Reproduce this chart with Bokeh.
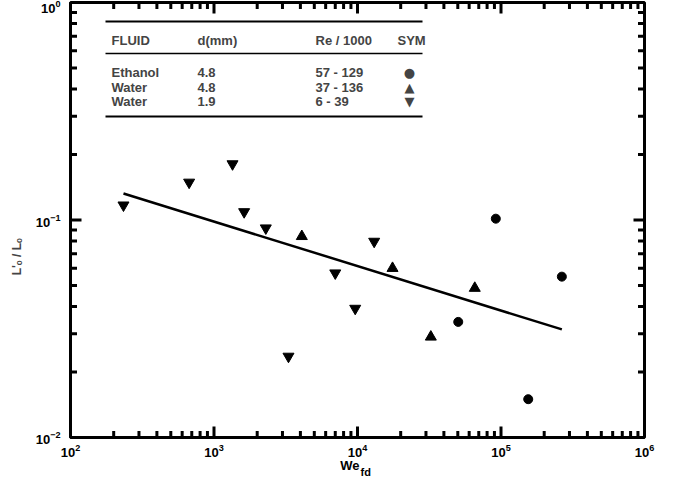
import math
from bokeh.plotting import figure
from bokeh.models import (FixedTicker, LogTickFormatter, Label, BoxAnnotation, Range1d)
from bokeh.layouts import column
from bokeh.core.properties import value
from bokeh.embed import file_html
from bokeh.resources import INLINE

# ---- data ----
eth_we = [50350, 92000, 154800, 265500]
eth_l = [0.0340, 0.1014, 0.0150, 0.0549]

w48_we = [4093, 17540, 32440, 65650]
w48_l = [0.0841, 0.0600, 0.0290, 0.0486]

w19_we = [234, 671, 1346, 1622, 2296, 3304, 6998, 9640, 13070]
w19_l = [0.117, 0.149, 0.181, 0.109, 0.0918, 0.0236, 0.0570, 0.0392, 0.0797]

fit_we = [234, 265500]
fit_l = [0.1324, 0.0314]

leg_head = ["FLUID", "d(mm)", "Re / 1000", "SYM"]
leg_fluid = ["Ethanol", "Water", "Water"]
leg_d = ["4.8", "4.8", "1.9"]
leg_re = ["57 - 129", "37 - 136", "6  -  39"]
leg_sym = ["\u25CF", "\u25B2", "\u25BC"]

x_major = [1e2, 1e3, 1e4, 1e5, 1e6]
y_major = [1e-2, 1e-1, 1e0]
x_minor = [m * 10.0 ** k for k in range(2, 6) for m in range(2, 10)]
y_minor = [m * 10.0 ** k for k in range(-2, 0) for m in range(2, 10)]
x_lo, x_hi = 1e2, 1e6
y_lo, y_hi = 1e-2, 1e0

x_title = "We"
x_title_sub = "fd"
y_title = "L'\u2092 / L\u2092"

FONT = "Liberation Sans"
TICK_COLOR = "black"

p = figure(width=659, height=459, x_axis_type="log", y_axis_type="log",
           x_range=(x_lo, x_hi), y_range=(y_lo, y_hi),
           output_backend="svg", toolbar_location=None,
           min_border_left=70, min_border_right=15, min_border_top=2,
           min_border_bottom=22)
p.grid.visible = False
p.outline_line_color = "black"
p.outline_line_width = 3
p.background_fill_color = "white"
p.border_fill_color = "white"


def style_axis(ax, ticks):
    ax.ticker = FixedTicker(ticks=ticks)
    ax.axis_line_width = 3
    ax.axis_line_color = "black"
    ax.major_tick_in = 0
    ax.major_tick_out = 0
    ax.minor_tick_in = 0
    ax.minor_tick_out = 0
    ax.formatter = LogTickFormatter()
    ax.major_label_text_font = FONT
    ax.major_label_text_font_style = "bold"
    ax.major_label_text_font_size = "13px"
    ax.major_label_text_color = "black"


xb = p.xaxis[0]
yl = p.yaxis[0]
style_axis(xb, x_major)
style_axis(yl, y_major)
xb.major_label_standoff = 6
yl.major_label_standoff = 10
# trailing no-break spaces push the rotated title below the axis centre, as in the reference
yl.axis_label = y_title + "\u00A0" * 22
yl.axis_label_text_font = FONT
yl.axis_label_text_font_style = "bold"
yl.axis_label_text_font_size = "12px"
yl.axis_label_standoff = 9

# ---- inward tick marks on all four sides (dash markers, half clipped by the frame) ----
TK = dict(marker="dash", line_color=TICK_COLOR, line_width=3)
p.scatter(x=x_major, y=[y_lo] * len(x_major), angle=math.pi / 2, size=22, **TK)
p.scatter(x=x_major, y=[y_hi] * len(x_major), angle=math.pi / 2, size=22, **TK)
p.scatter(x=x_minor, y=[y_lo] * len(x_minor), angle=math.pi / 2, size=13, **TK)
p.scatter(x=x_minor, y=[y_hi] * len(x_minor), angle=math.pi / 2, size=13, **TK)
p.scatter(x=[x_lo] * len(y_major), y=y_major, size=22, **TK)
p.scatter(x=[x_hi] * len(y_major), y=y_major, size=22, **TK)
p.scatter(x=[x_lo] * len(y_minor), y=y_minor, size=13, **TK)
p.scatter(x=[x_hi] * len(y_minor), y=y_minor, size=13, **TK)

# ---- data marks ----
p.line(fit_we, fit_l, line_color="black", line_width=2.5)
p.scatter(eth_we, eth_l, marker="circle", size=9, fill_color="black", line_color="black")
p.scatter(w48_we, w48_l, marker="triangle", size=11, fill_color="black", line_color="black")
p.scatter(w19_we, w19_l, marker="inverted_triangle", size=11, fill_color="black", line_color="black")

# ---- table-like legend ----
col_x = [41, 127, 245, 327]
head_y = 397
row_y = [365, 350, 336]
for t, cx in zip(leg_head, col_x):
    p.add_layout(Label(x=cx, y=head_y, x_units="screen", y_units="screen", text=t,
                       text_font=FONT, text_font_style="bold", text_font_size="13px",
                       text_baseline="middle", text_align="left"))
for i in range(3):
    for t, cx in zip([leg_fluid[i], leg_d[i], leg_re[i]], col_x[:3]):
        p.add_layout(Label(x=cx, y=row_y[i], x_units="screen", y_units="screen", text=t,
                           text_font=FONT, text_font_style="bold", text_font_size="13px",
                           text_baseline="middle", text_align="left"))
    p.add_layout(Label(x=col_x[3] + 12, y=row_y[i], x_units="screen", y_units="screen",
                       text=leg_sym[i], text_font="DejaVu Sans", text_font_size="13px",
                       text_baseline="middle", text_align="center"))

for yy, lw in [(416, 2), (384, 1.5), (321, 2)]:
    p.add_layout(BoxAnnotation(left=35, right=352, bottom=yy - lw / 2, top=yy + lw / 2,
                               left_units="screen", right_units="screen",
                               bottom_units="screen", top_units="screen",
                               fill_color="black", fill_alpha=1, line_alpha=0))

# ---- strip under the plot carrying the x-axis title We_fd ----
p2 = figure(width=659, height=21, x_range=Range1d(0, 574), y_range=Range1d(21, 0),
            output_backend="svg", toolbar_location=None,
            x_axis_location=None, y_axis_location=None,
            min_border_left=70, min_border_right=15, min_border_top=0, min_border_bottom=0)
p2.grid.visible = False
p2.outline_line_color = None
p2.text(x=[289], y=[6], text=[x_title], text_font=value(FONT), text_font_style="bold",
        text_font_size="13px", text_align="right", text_baseline="middle", text_color="black")
p2.text(x=[290], y=[12], text=[x_title_sub], text_font=value(FONT), text_font_style="bold",
        text_font_size="11px", text_align="left", text_baseline="middle", text_color="black")

layout = column(p, p2, spacing=0)
open("out.html", "w").write(file_html(layout, INLINE))
